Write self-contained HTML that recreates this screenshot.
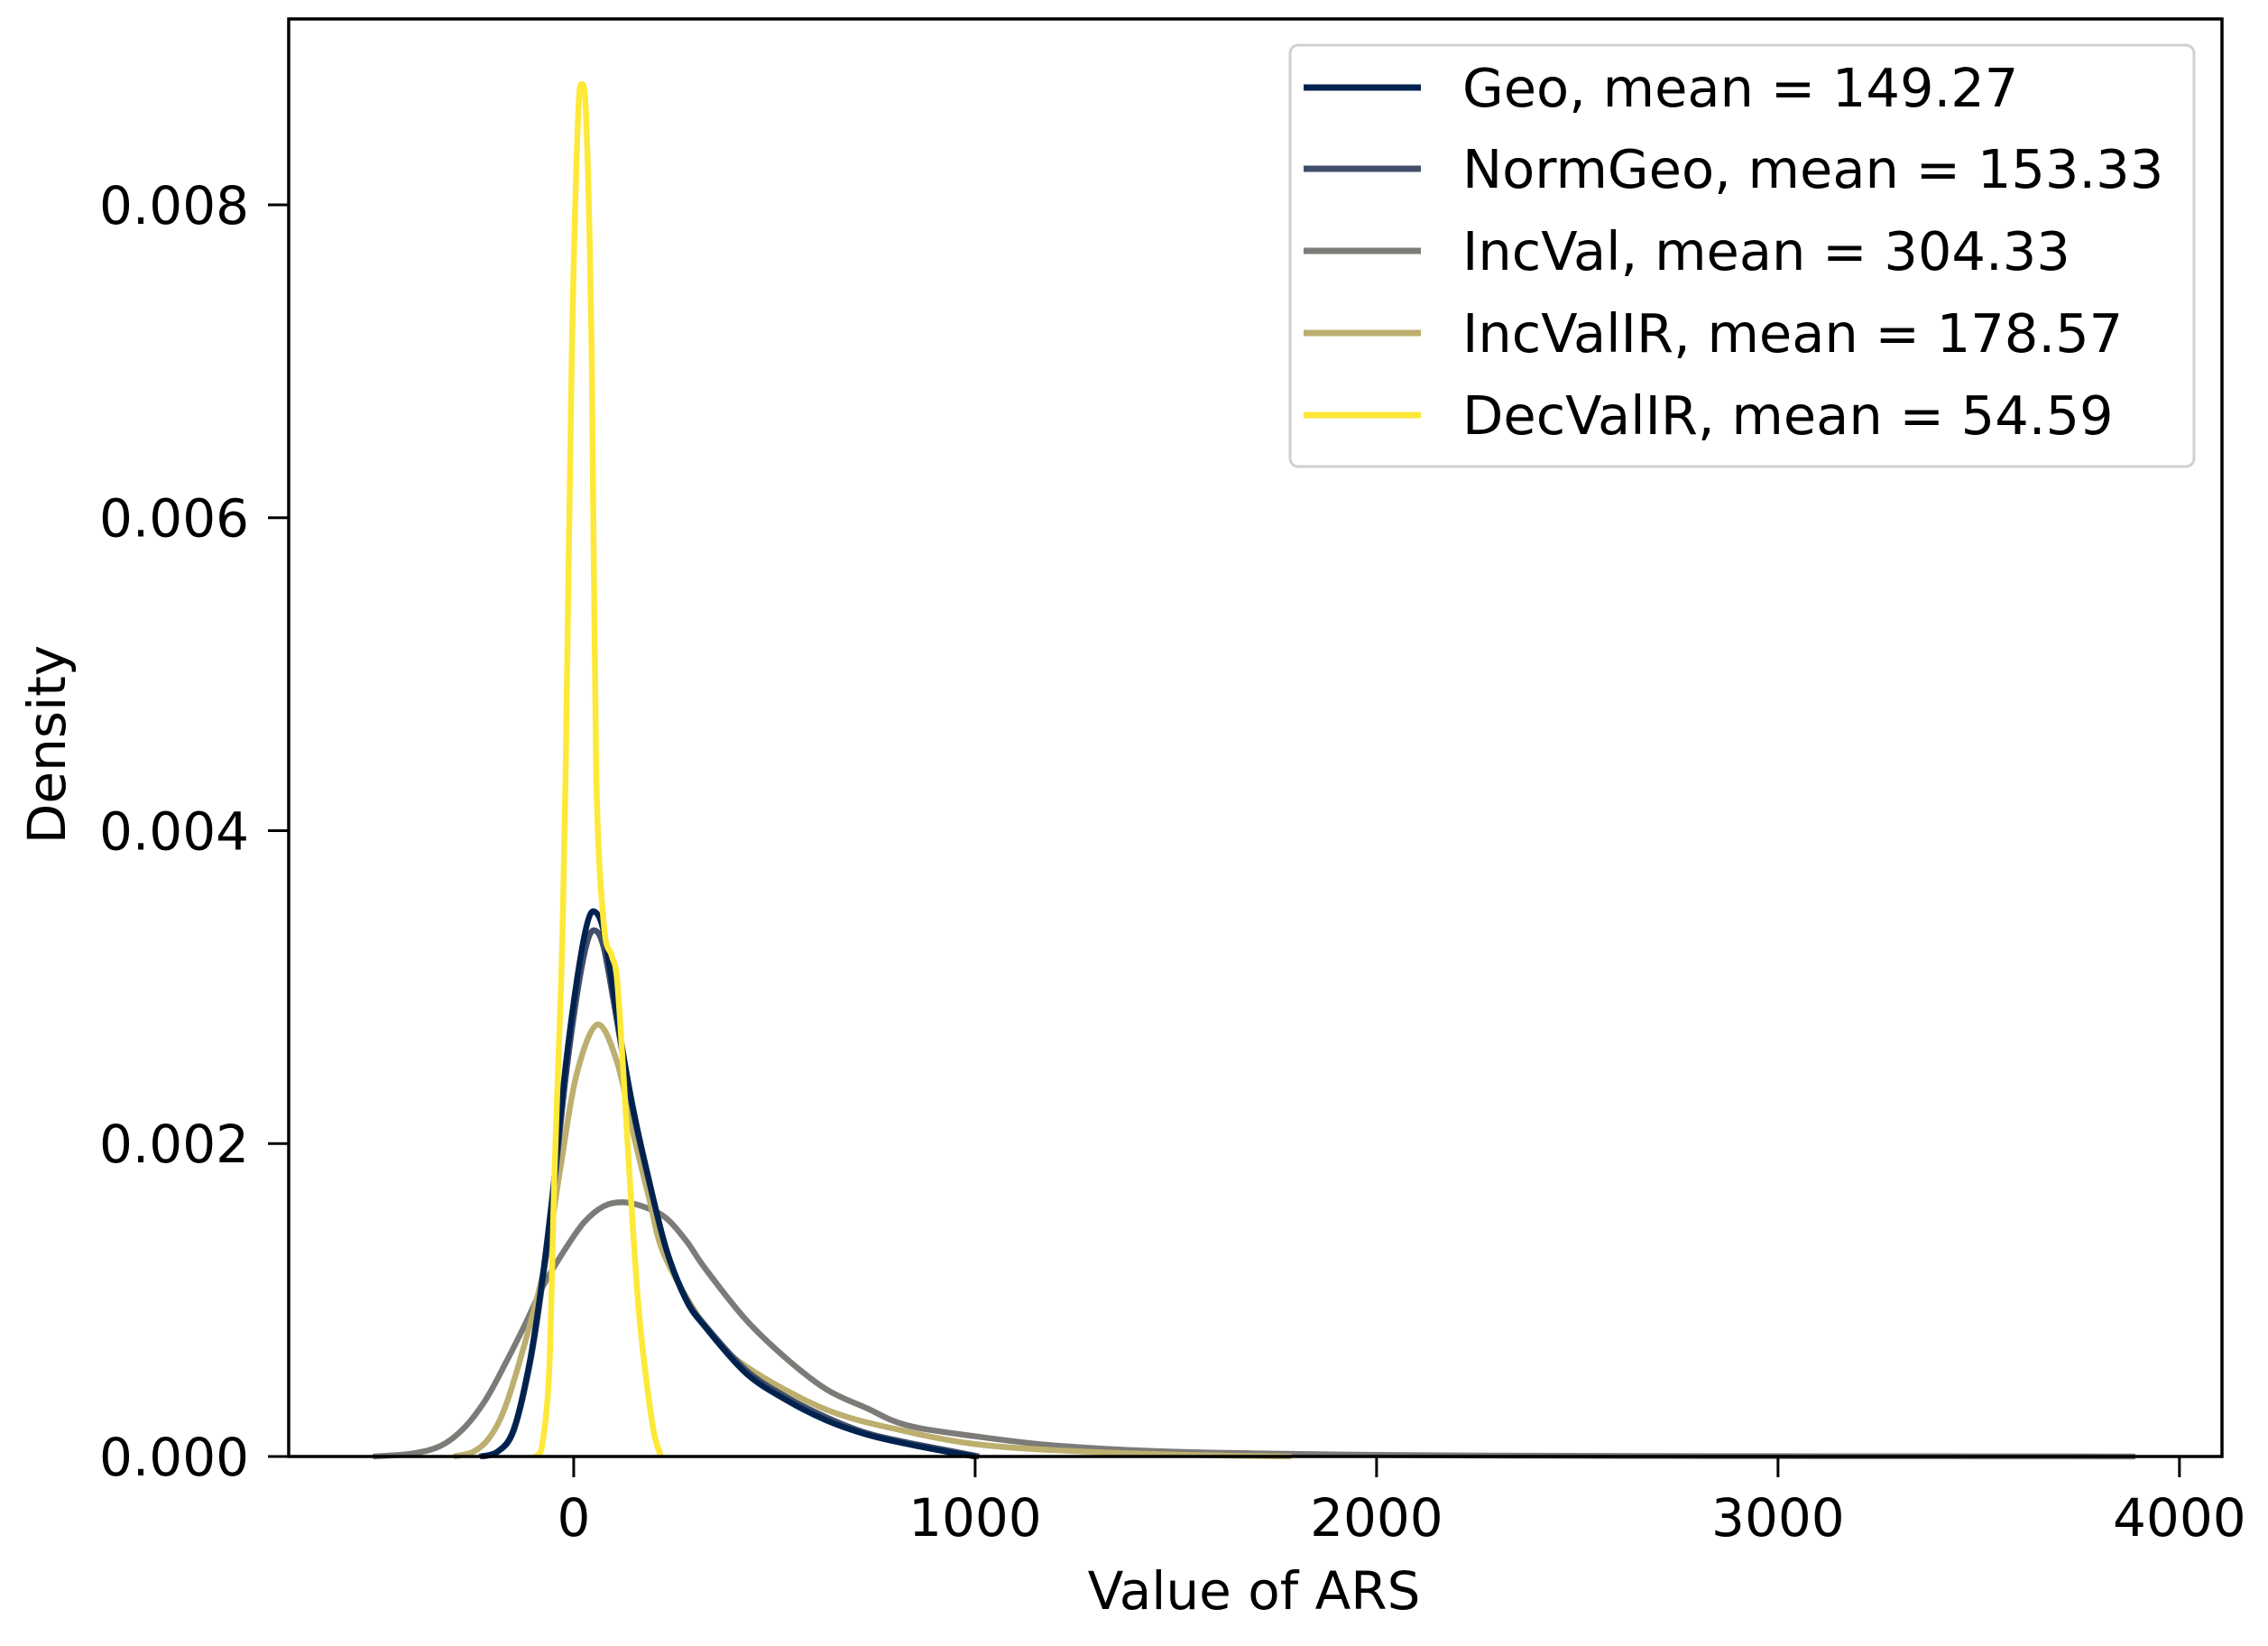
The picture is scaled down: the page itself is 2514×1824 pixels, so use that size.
<!DOCTYPE html>
<html><head><meta charset="utf-8"><style>
html,body{margin:0;padding:0;background:#fff;}
svg{display:block;}
text{font-family:"DejaVu Sans","Liberation Sans",sans-serif;fill:#000;}
</style></head><body>
<svg id="chart" width="2514" height="1824" viewBox="0 0 2514 1824" xmlns="http://www.w3.org/2000/svg">
<g id="plot"></g>
</svg>
<script>
const xTicks = [0, 1000, 2000, 3000, 4000];
const yTicks = [0, 0.002, 0.004, 0.006, 0.008];
const yTickLabels = ["0.000", "0.002", "0.004", "0.006", "0.008"];
const seriesNames = ["Geo, mean = 149.27", "NormGeo, mean = 153.33", "IncVal, mean = 304.33", "IncValIR, mean = 178.57", "DecValIR, mean = 54.59"];
const seriesColors = ["#00224e", "#414d6b", "#7c7b78", "#bcaf6f", "#fee838"];
const geoX = [-230,-190,-150,-110,-80,-50,-20,10,35,54,75,100,125,150,180,230,280,330,430,530,630,730,830,930,1000];
const geoY = [0,0.03,0.17,0.6,1.1,1.74,2.5,3.08,3.42,3.48,3.35,2.95,2.55,2.2,1.85,1.33,1.0,0.82,0.53,0.36,0.23,0.14,0.08,0.03,0];
const normGeoX = [-235,-190,-150,-110,-80,-50,-20,10,35,55,75,100,125,150,180,230,280,330,430,530,630,730,830,930,1010];
const normGeoY = [0,0.03,0.16,0.58,1.07,1.7,2.42,2.98,3.3,3.36,3.25,2.9,2.52,2.18,1.84,1.33,1.01,0.83,0.55,0.38,0.25,0.15,0.09,0.04,0];
const incValX = [-500,-400,-330,-274,-220,-173,-120,-74,-20,27,75,121,170,227,280,328,427,528,629,729,829,998,1200,1500,2000,2500,3000,3500,3890];
const incValY = [0,0.02,0.07,0.18,0.36,0.58,0.85,1.1,1.33,1.5,1.6,1.625,1.6,1.53,1.38,1.2,0.88,0.63,0.43,0.31,0.2,0.13,0.07,0.03,0.01,0.004,0.002,0.001,0];
const incValIRX = [-299,-250,-210,-173,-130,-74,-34,6,58,107,148,188,227,328,427,629,829,998,1200,1500,1788];
const incValIRY = [0,0.03,0.12,0.3,0.65,1.2,1.83,2.43,2.76,2.53,2.07,1.65,1.28,0.83,0.58,0.3,0.16,0.08,0.04,0.012,0];
const decValIRX = [-95,-80,-61,-48,-31,-20,-5,10,20,32,45,56,75,95,108,125,139,160,178,200,218];
const decValIRY = [0,0.05,0.55,1.8,3.05,4.38,7.0,8.5,8.77,8.5,7.0,4.38,3.4,3.2,3.05,2.4,1.8,1.0,0.55,0.15,0];

const NS = "http://www.w3.org/2000/svg";
const L = 320, R = 2463, T = 21, B = 1614;
const xMin = -710, xMax = 4106, yMin = 0, yMax = 0.009188;
function sx(v){ return L + (v - xMin) / (xMax - xMin) * (R - L); }
function sy(v){ return B - (v - yMin) / (yMax - yMin) * (B - T); }
const plot = document.getElementById('plot');
function mk(tag, attrs, parent){
  const e = document.createElementNS(NS, tag);
  for (const k in attrs) e.setAttribute(k, attrs[k]);
  (parent || plot).appendChild(e);
  return e;
}
function smoothPath(xs, ys){
  const p = xs.map((x,i)=>[sx(x), sy(ys[i]/1000)]);
  let d = "M" + p[0][0].toFixed(2) + "," + p[0][1].toFixed(2);
  for (let i=0;i<p.length-1;i++){
    const p0 = p[i-1]||p[i], p1=p[i], p2=p[i+1], p3=p[i+2]||p[i+1];
    const c1x = p1[0]+(p2[0]-p0[0])/6, c1y = p1[1]+(p2[1]-p0[1])/6;
    const c2x = p2[0]-(p3[0]-p1[0])/6, c2y = p2[1]-(p3[1]-p1[1])/6;
    d += " C"+c1x.toFixed(2)+","+Math.min(c1y,B).toFixed(2)+" "+c2x.toFixed(2)+","+Math.min(c2y,B).toFixed(2)+" "+p2[0].toFixed(2)+","+p2[1].toFixed(2);
  }
  return d;
}
const sxs = [geoX, normGeoX, incValX, incValIRX, decValIRX];
const sys = [geoY, normGeoY, incValY, incValIRY, decValIRY];
const ids = ["geo","normgeo","incval","incvalir","decvalir"];
const order = [2,3,1,0,4];
order.forEach(i=>{
  const pth = mk('path', {d: smoothPath(sxs[i], sys[i]), fill:'none', stroke: seriesColors[i], 'stroke-width': 6.5, 'stroke-linejoin':'round', 'stroke-linecap':'butt'});
  
  
});
const frame = mk('rect', {x:L, y:T, width:R-L, height:B-T, fill:'none', stroke:'#000', 'stroke-width':3.5});


xTicks.forEach(v=>{
  const t = mk('line', {x1:sx(v), x2:sx(v), y1:B, y2:B+23, stroke:'#000', 'stroke-width':3});
  
  
  const lb = mk('text', {x:sx(v), y:1702, 'text-anchor':'middle', 'font-size':58});
  lb.textContent = String(v);
  
  
});
yTicks.forEach((v,i)=>{
  const t = mk('line', {x1:L-23, x2:L, y1:sy(v), y2:sy(v), stroke:'#000', 'stroke-width':3});
  
  
  const lb = mk('text', {x:276, y:sy(v)+21, 'text-anchor':'end', 'font-size':58});
  lb.textContent = yTickLabels[i];
  
  
});
const xt = mk('text', {x:1390, y:1783, 'text-anchor':'middle', 'font-size':58});
xt.textContent = 'Value of ARS';


const yt = mk('text', {x:0, y:0, 'text-anchor':'middle', 'font-size':58, transform:'translate(72,825) rotate(-90)'});
yt.textContent = 'Density';


const lg = mk('g', {});


const box = mk('rect', {x:1430, y:50, width:1002, height:467, rx:9, fill:'#fff', 'fill-opacity':0.85, stroke:'#d0d0d0', 'stroke-width':3}, lg);


const rowY = [97, 187, 278, 369, 460];
seriesNames.forEach((n,i)=>{
  const ln = mk('line', {x1:1445, x2:1575, y1:rowY[i], y2:rowY[i], stroke:seriesColors[i], 'stroke-width':7}, lg);
  
  
  const tx = mk('text', {x:1621, y:rowY[i]+21, 'font-size':59}, lg);
  tx.textContent = n;
  
  
});
</script>
</body></html>
